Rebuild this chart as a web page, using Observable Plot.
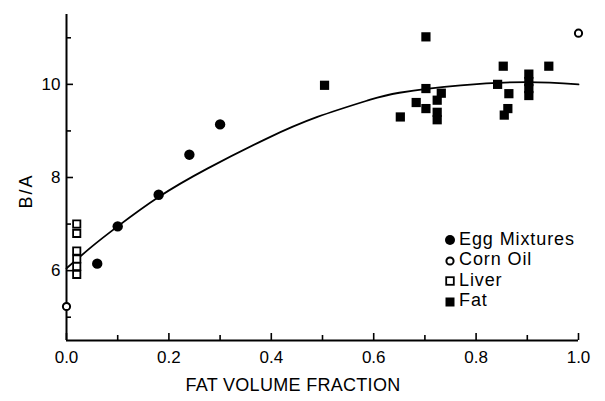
<!DOCTYPE html>
<html>
<head>
<meta charset="utf-8">
<script src="https://cdn.jsdelivr.net/npm/d3@7"></script>
<script src="https://cdn.jsdelivr.net/npm/@observablehq/plot@0.6"></script>
<style>
  body { margin: 0; background: #fff; }
  #fig { position: relative; width: 605px; height: 401px; color: #000;
         font-family: "Liberation Sans", Arial, sans-serif; }
  #fig svg { position: absolute; left: 0; top: 0; }
  .lab { position: absolute; font-size: 18px; white-space: nowrap; line-height: 1; }
  #ylab { left: 26px; top: 191px; letter-spacing: 2px; transform: translate(-50%, -50%) rotate(-90deg); }
  #xlab { left: 293px; top: 385px; letter-spacing: 0.3px; transform: translate(-50%, -50%); }
  #legend { position: absolute; left: 444px; top: 230px; font-size: 18px; letter-spacing: 0.9px; line-height: 1; }
  #legend .row { display: flex; align-items: center; height: 20.5px; }
  #legend svg { position: static; }
  #legend span { margin-left: 3px; margin-top: -3px; }
</style>
</head>
<body>
<div id="fig"></div>
<script>
// ---- data ----
const eggX = [0.06, 0.10, 0.18, 0.24, 0.30];
const eggY = [6.15, 6.95, 7.63, 8.49, 9.14];

const cornX = [0.0, 1.0];
const cornY = [5.23, 11.10];

const liverX = [0.02, 0.02, 0.02, 0.02, 0.02, 0.02];
const liverY = [7.00, 6.80, 6.42, 6.25, 6.09, 5.92];

const fatX = [0.504, 0.652, 0.683, 0.702, 0.702, 0.702, 0.724, 0.724, 0.724, 0.732,
              0.842, 0.853, 0.864, 0.862, 0.855, 0.903, 0.903, 0.903, 0.903, 0.942];
const fatY = [9.98, 9.30, 9.61, 11.02, 9.91, 9.48, 9.66, 9.40, 9.24, 9.81,
              10.00, 10.39, 9.80, 9.48, 9.34, 10.22, 10.06, 9.91, 9.76, 10.39];

const fitX = [0.00, 0.05, 0.10, 0.18, 0.275, 0.39, 0.49, 0.59, 0.65, 0.77, 0.90, 1.00];
const fitY = [6.05, 6.52, 6.95, 7.58, 8.19, 8.83, 9.30, 9.66, 9.82, 9.98, 10.05, 10.00];

const xMajor = [0, 0.2, 0.4, 0.6, 0.8, 1.0];
const xMinor = [0.1, 0.3, 0.5, 0.7, 0.9];
const yMajor = [6, 8, 10];
const yMinor = [5, 7, 9, 11];

const legendItems = ["Egg Mixtures", "Corn Oil", "Liver", "Fat"];

// ---- build tables ----
const zip = (xs, ys) => xs.map((x, i) => ({x, y: ys[i]}));
const egg = zip(eggX, eggY);
const corn = zip(cornX, cornY);
const liver = zip(liverX, liverY);
const fat = zip(fatX, fatY);
const fit = zip(fitX, fitY);

const font = '"Liberation Sans", Arial, sans-serif';

const chart = Plot.plot({
  width: 605,
  height: 401,
  marginLeft: 66,
  marginRight: 27,
  marginTop: 14,
  marginBottom: 61,
  style: { fontFamily: font, fontSize: "17px", color: "#000", background: "transparent" },
  x: { domain: [0, 1], label: null },
  y: { domain: [4.5, 11.5], label: null },
  marks: [
    Plot.ruleX([0], { stroke: "#000", strokeWidth: 2 }),
    Plot.ruleY([4.5], { stroke: "#000", strokeWidth: 2 }),
    Plot.axisX({ ticks: xMajor, tickSize: -7, tickPadding: 17, tickFormat: d3.format(".1f"),
                 strokeWidth: 1.6, fontSize: 17, label: null }),
    Plot.axisX({ ticks: xMinor, tickSize: -5, tickFormat: () => "", strokeWidth: 1.6, label: null }),
    Plot.axisY({ ticks: yMajor, tickSize: -7, tickPadding: 13, tickFormat: d3.format("d"),
                 strokeWidth: 1.6, fontSize: 17, label: null }),
    Plot.axisY({ ticks: yMinor, tickSize: -5, tickFormat: () => "", strokeWidth: 1.6, label: null }),
    Plot.line(fit, { x: "x", y: "y", curve: "natural", stroke: "#000", strokeWidth: 1.8 }),
    Plot.dot(fat, { x: "x", y: "y", symbol: "square", r: 5.2, fill: "#000" }),
    Plot.dot(liver, { x: "x", y: "y", symbol: "square", r: 4.1, fill: "#fff", stroke: "#000", strokeWidth: 1.8 }),
    Plot.dot(egg, { x: "x", y: "y", r: 5.2, fill: "#000" }),
    Plot.dot(corn, { x: "x", y: "y", r: 3.6, fill: "#fff", stroke: "#000", strokeWidth: 2 })
  ]
});

const fig = document.getElementById("fig");
fig.appendChild(chart);

const yl = document.createElement("div");
yl.className = "lab"; yl.id = "ylab"; yl.textContent = "B/A";
fig.appendChild(yl);

const xl = document.createElement("div");
xl.className = "lab"; xl.id = "xlab"; xl.textContent = "FAT VOLUME FRACTION";
fig.appendChild(xl);

// legend
const symbols = [
  '<circle cx="6" cy="6" r="5" fill="#000"/>',
  '<circle cx="6" cy="6" r="3.6" fill="#fff" stroke="#000" stroke-width="2"/>',
  '<rect x="2.2" y="2.2" width="7.6" height="7.6" fill="#fff" stroke="#000" stroke-width="1.8"/>',
  '<rect x="1.5" y="1.5" width="9" height="9" fill="#000"/>'
];
const lg = document.createElement("div");
lg.id = "legend";
legendItems.forEach((name, i) => {
  const row = document.createElement("div");
  row.className = "row";
  row.innerHTML = `<svg width="12" height="12" viewBox="0 0 12 12">${symbols[i]}</svg><span>${name}</span>`;
  lg.appendChild(row);
});
fig.appendChild(lg);
</script>
</body>
</html>
